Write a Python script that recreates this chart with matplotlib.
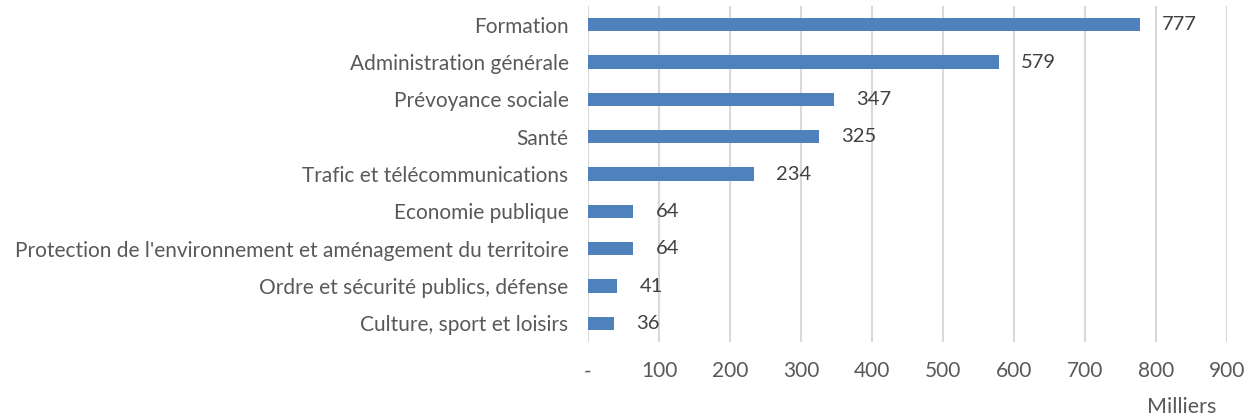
import matplotlib
matplotlib.use("Agg")
import matplotlib.pyplot as plt

categories = ["Formation", "Administration générale", "Prévoyance sociale", "Santé",
              "Trafic et télécommunications", "Economie publique",
              "Protection de l'environnement et aménagement du territoire",
              "Ordre et sécurité publics, défense", "Culture, sport et loisirs"]
values = [777, 579, 347, 325, 234, 64, 64, 41, 36]
xticks = [0, 100, 200, 300, 400, 500, 600, 700, 800, 900]
xticklabels = ["-", "100", "200", "300", "400", "500", "600", "700", "800", "900"]

plt.rcParams['font.family'] = ['Lato', 'DejaVu Sans']
txt = "#595959"
fig = plt.figure(figsize=(12.47, 4.18), dpi=100)
ax = fig.add_axes([588/1247, 1-342/418, (1227-588)/1247, 336/418])
ypos = list(range(len(categories)))
ax.barh(ypos, values, height=0.36, color="#4f81bd", zorder=3)
ax.set_ylim(len(categories)-0.5, -0.5)
ax.set_xlim(0, 900)
ax.set_xticks(xticks)
ax.set_xticklabels(xticklabels)
ax.set_yticks(ypos)
ax.set_yticklabels(categories)
for y, v in zip(ypos, values):
    ax.annotate(str(v), (v, y), xytext=(16, 0), textcoords="offset points",
                va="center", ha="left", fontsize=14.5, color="#404040")
ax.grid(axis="x", color="#d9d9d9", linewidth=1.5, zorder=0)
for s in ax.spines.values():
    s.set_visible(False)
ax.tick_params(axis="both", length=0, colors=txt, labelsize=15)
ax.tick_params(axis="x", pad=14)
ax.tick_params(axis="y", pad=14)
fig.text(1182/1247, 1-407/418, "Milliers", ha="center", va="center", fontsize=15.5, color=txt)
fig.savefig("out.png", dpi=100)
